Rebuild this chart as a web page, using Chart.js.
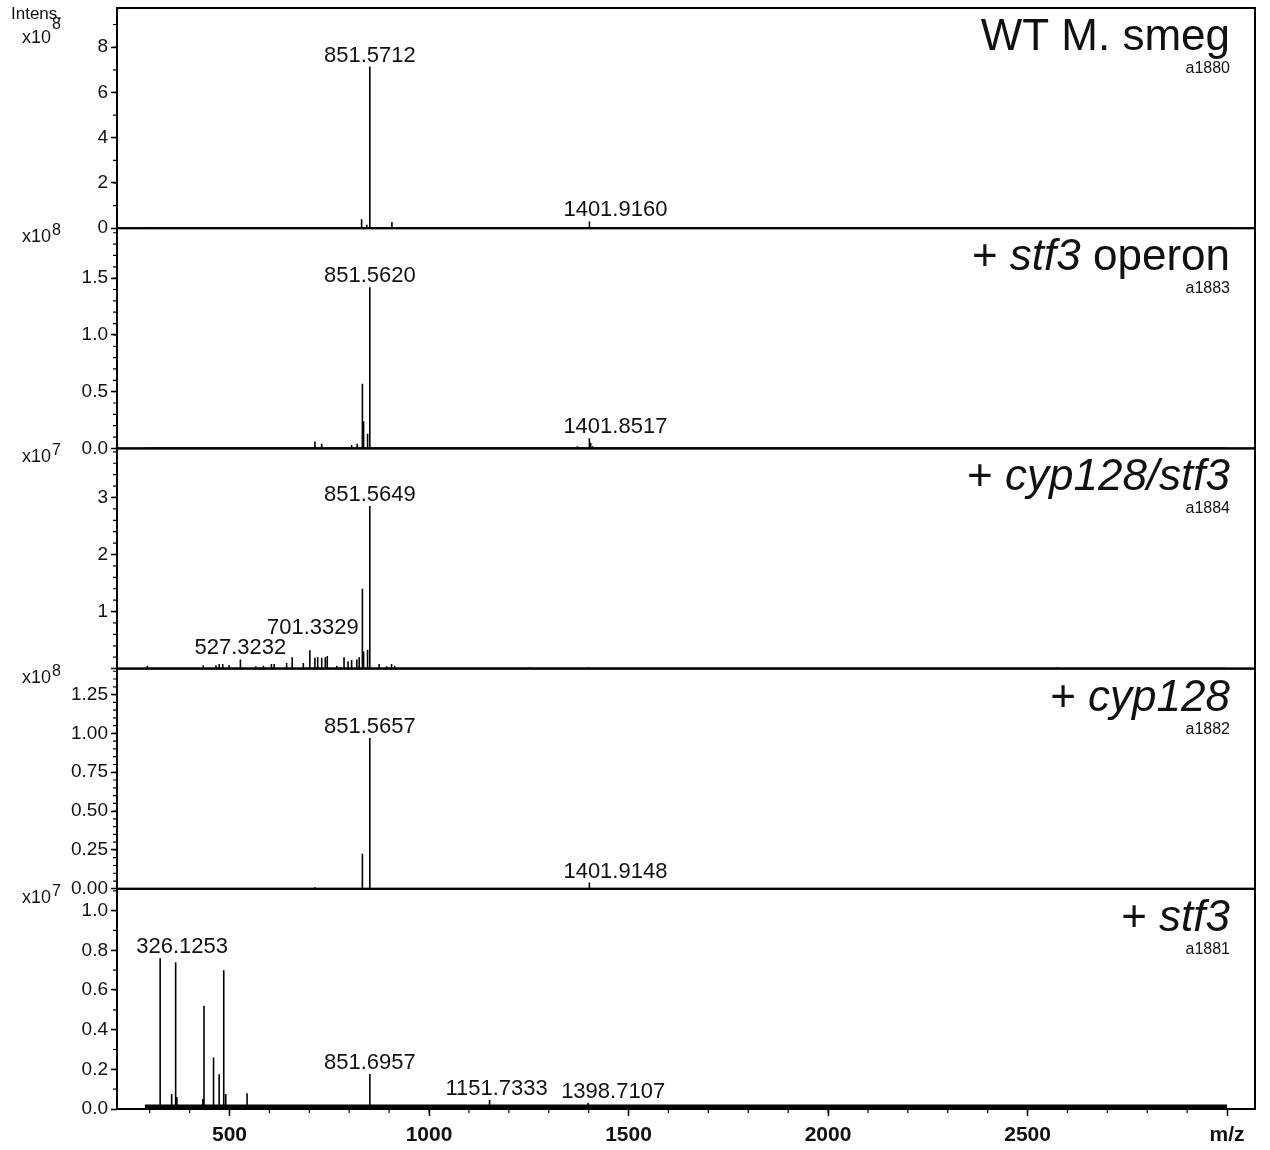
<!DOCTYPE html>
<html>
<head>
<meta charset="utf-8">
<title>MALDI spectra</title>
<script src="https://cdn.jsdelivr.net/npm/chart.js@4.4.1/dist/chart.umd.min.js"></script>
<style>
  html, body { margin: 0; padding: 0; background: #fff; }
  canvas { display: block; }
</style>
</head>
<body>
<canvas id="myChart" width="1270" height="1150"></canvas>
<script>
// peaks: m/z and intensity (in the panel's x10^n unit)
const wtMz = [831, 844, 851.5712, 907, 1401.9160];
const wtInt = [0.40, 0.15, 7.14, 0.27, 0.30];

const operonMz = [714, 731, 806, 820, 833, 836, 846, 851.5620, 906, 1372, 1401.8517, 1405, 1410];
const operonInt = [0.06, 0.04, 0.03, 0.04, 0.57, 0.24, 0.13, 1.42, 0.01, 0.02, 0.09, 0.05, 0.02];

const cypStfMz = [294, 434, 466, 474, 483, 499, 527.3232, 566, 585, 605, 612, 643, 657, 685, 701.3329,
  714, 721, 731, 740, 745, 769, 787, 797, 806, 819, 825, 833, 836, 846, 851.5649, 875, 894, 906, 914,
  1253, 1401, 2575];
const cypStfInt = [0.05, 0.06, 0.06, 0.08, 0.08, 0.06, 0.16, 0.04, 0.05, 0.08, 0.08, 0.10, 0.20, 0.10, 0.32,
  0.19, 0.20, 0.19, 0.20, 0.22, 0.05, 0.20, 0.13, 0.15, 0.16, 0.20, 1.40, 0.30, 0.33, 2.85, 0.08, 0.04, 0.08, 0.05,
  0.03, 0.03, 0.03];

const cypMz = [714, 833, 851.5657, 1401.9148];
const cypInt = [0.01, 0.225, 0.97, 0.04];

const stfMz = [326.1253, 355, 365, 368, 433, 436, 460, 474, 485.5, 490.5, 544, 851.6957, 1151.7333, 1398.7107];
const stfInt = [0.76, 0.075, 0.74, 0.06, 0.05, 0.52, 0.26, 0.175, 0.70, 0.075, 0.08, 0.177, 0.045, 0.03];

// annotated peaks per panel
const wtLabels = [851.5712, 1401.9160];
const operonLabels = [851.5620, 1401.8517];
const cypStfLabels = [851.5649, 701.3329, 527.3232];
const cypLabels = [851.5657, 1401.9148];
const stfLabels = [326.1253, 851.6957, 1151.7333, 1398.7107];

// acquired m/z range and the noise floor of the last run
const scanRange = [288, 3000];
const stfNoise = 0.014;

const panelNames = [
  [['WT M. smeg', false]],
  [['+ ', false], ['stf3', true], [' operon', false]],
  [['+ ', false], ['cyp128/stf3', true]],
  [['+ ', false], ['cyp128', true]],
  [['+ ', false], ['stf3', true]]
];
const sampleIds = ['a1880', 'a1883', 'a1884', 'a1882', 'a1881'];
const exponents = [8, 8, 7, 8, 7];

// y axes: top of range, labelled step, minor step, decimals
const yMax = [9.73, 1.94, 3.86, 1.417, 1.11];
const yStep = [2, 0.5, 1, 0.25, 0.2];
const yMinor = [1, 0.1, 0.2, 0.05, 0.1];
const yDecimals = [0, 1, 0, 2, 1];

const xTicks = [500, 1000, 1500, 2000, 2500, 3000];

const allMz = [wtMz, operonMz, cypStfMz, cypMz, stfMz];
const allInt = [wtInt, operonInt, cypStfInt, cypInt, stfInt];
const allLabels = [wtLabels, operonLabels, cypStfLabels, cypLabels, stfLabels];

// where Bruker moved a label sideways / upward, in px
const labelNudge = {
  '1401.9160': [26, 0], '1401.8517': [26, 0], '1401.9148': [26, 0], '1398.7107': [25, 0],
  '326.1253': [22, 0], '1151.7333': [7, 0], '701.3329': [3, -11]
};

const FONT = '"Liberation Sans", Arial, Helvetica, sans-serif';

function stickPoints(mz, inten) {
  const order = mz.map((m, i) => i).sort((a, b) => mz[a] - mz[b]);
  const pts = [{x: scanRange[0], y: 0}];
  order.forEach(i => {
    pts.push({x: mz[i], y: 0}, {x: mz[i], y: inten[i]}, {x: mz[i], y: 0});
  });
  pts.push({x: scanRange[1], y: 0});
  return pts;
}

const datasets = [];
allMz.forEach((mz, p) => {
  datasets.push({
    label: sampleIds[p],
    data: stickPoints(mz, allInt[p]),
    yAxisID: 'y' + p,
    borderColor: '#000',
    borderWidth: 1.6,
    pointRadius: 0,
    tension: 0
  });
});
// thick noisy baseline of the +stf3 run
datasets.push({
  label: 'noise',
  data: [{x: scanRange[0], y: stfNoise}, {x: scanRange[1], y: stfNoise}],
  yAxisID: 'y4',
  borderColor: '#000',
  borderWidth: 3.5,
  pointRadius: 0
});

const scales = {
  x: {
    type: 'linear',
    min: 218,
    max: 3070,
    afterFit: s => { s.height = 41; s.paddingLeft = 0; s.paddingRight = 0; },
    afterBuildTicks: s => { s.ticks = xTicks.map(v => ({value: v})); },
    ticks: {
      callback: v => (v === 3000 ? 'm/z' : String(v)),
      font: {family: FONT, size: 21, weight: 'bold'},
      color: '#111',
      padding: 7,
      maxRotation: 0,
      autoSkip: false
    },
    grid: {drawOnChartArea: false, tickLength: 7, tickColor: '#000', tickWidth: 1.5},
    border: {display: false}
  }
};
yMax.forEach((mx, p) => {
  scales['y' + p] = {
    type: 'linear',
    position: 'left',
    stack: 'spectra',
    stackWeight: 1,
    weight: 5 - p,
    min: 0,
    max: mx,
    afterFit: s => { s.width = 117; s.paddingTop = 0; s.paddingBottom = 0; },
    ticks: {
      stepSize: yStep[p],
      includeBounds: false,
      autoSkip: false,
      callback: v => (p === 2 && v === 0 ? '' : v.toFixed(yDecimals[p])),
      font: {family: FONT, size: 19},
      color: '#111',
      padding: 3
    },
    grid: {drawOnChartArea: false, tickLength: 6, tickColor: '#000', tickWidth: 1.5},
    border: {display: false}
  };
});

function drawRich(ctx, parts, right, y, size) {
  let x = right;
  for (let k = parts.length - 1; k >= 0; k--) {
    const txt = parts[k][0];
    ctx.font = (parts[k][1] ? 'italic ' : '') + size + 'px ' + FONT;
    x -= ctx.measureText(txt).width;
    ctx.fillText(txt, x, y);
  }
}

const extras = {
  id: 'extras',
  afterDraw(chart) {
    const ctx = chart.ctx;
    const area = chart.chartArea;
    const xs = chart.scales.x;
    ctx.save();
    ctx.strokeStyle = '#000';
    ctx.fillStyle = '#111';

    // minor ticks on the m/z axis
    ctx.lineWidth = 1.2;
    ctx.beginPath();
    for (let k = 3; k <= 29; k++) {
      const px = xs.getPixelForValue(k * 100);
      ctx.moveTo(px, area.bottom);
      ctx.lineTo(px, area.bottom + 4);
    }
    ctx.stroke();

    yMax.forEach((mx, p) => {
      const ys = chart.scales['y' + p];
      // frame
      ctx.lineWidth = 2;
      ctx.strokeRect(area.left, ys.top, area.right - area.left, ys.bottom - ys.top);
      // minor ticks
      ctx.lineWidth = 1.2;
      ctx.beginPath();
      for (let k = 1; k * yMinor[p] < mx; k++) {
        const py = ys.getPixelForValue(k * yMinor[p]);
        ctx.moveTo(area.left - 4, py);
        ctx.lineTo(area.left, py);
      }
      ctx.stroke();

      // panel names
      ctx.textAlign = 'left';
      ctx.textBaseline = 'alphabetic';
      drawRich(ctx, panelNames[p], 1230, ys.top + 42, 44);
      ctx.textAlign = 'right';
      ctx.font = '16px ' + FONT;
      ctx.fillText(sampleIds[p], 1230, ys.top + 65);

      // intensity exponent
      ctx.textAlign = 'left';
      ctx.font = '18px ' + FONT;
      const base = p === 0 ? ys.top + 35 : ys.top + 14;
      ctx.fillText('x10', 22, base);
      const w = ctx.measureText('x10').width;
      ctx.font = '16px ' + FONT;
      ctx.fillText(String(exponents[p]), 22 + w + 1, p === 0 ? ys.top + 21 : ys.top + 7);

      // peak labels
      ctx.textAlign = 'center';
      ctx.font = '22px ' + FONT;
      allLabels[p].forEach(mz => {
        const idx = allMz[p].indexOf(mz);
        const txt = mz.toFixed(4);
        const nudge = labelNudge[txt] || [0, 0];
        const px = xs.getPixelForValue(mz) + nudge[0];
        const py = ys.getPixelForValue(allInt[p][idx]) - 5 + nudge[1];
        ctx.fillText(txt, px, py);
      });
    });

    ctx.textAlign = 'left';
    ctx.font = '17px ' + FONT;
    ctx.fillText('Intens.', 11, 19);
    ctx.restore();
  }
};

const chart = new Chart(document.getElementById('myChart'), {
  type: 'line',
  data: {datasets: datasets},
  options: {
    responsive: false,
    animation: false,
    devicePixelRatio: 1,
    layout: {padding: {top: 8, right: 15, left: 0, bottom: 0}},
    plugins: {legend: {display: false}, tooltip: {enabled: false}},
    scales: scales
  },
  plugins: [extras]
});
</script>
</body>
</html>
